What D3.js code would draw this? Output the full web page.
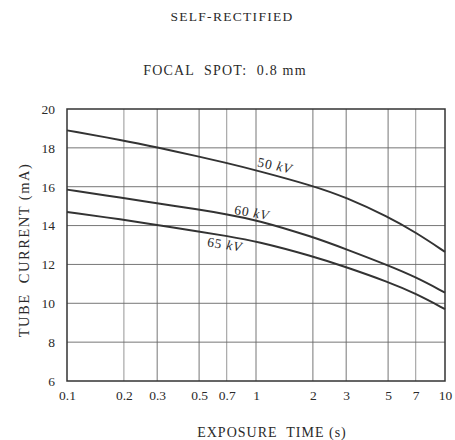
<!DOCTYPE html>
<html><head><meta charset="utf-8">
<script src="https://cdn.jsdelivr.net/npm/d3@7"></script>
<style>
html,body{margin:0;padding:0;background:#fff;}
text{font-family:"Liberation Serif","DejaVu Serif",serif;fill:#2a2a2a;}
</style></head>
<body>
<svg id="c" width="455" height="440"></svg>
<script>
const xTicks = [0.1, 0.2, 0.3, 0.5, 0.7, 1, 2, 3, 5, 7, 10];
const xTickLabels = ["0.1","0.2","0.3","0.5","0.7","1","2","3","5","7","10"];
const yTicks = [6, 8, 10, 12, 14, 16, 18, 20];
const times = [0.1, 0.2, 0.3, 0.5, 0.7, 1, 2, 3, 5, 7, 10];
const kv50 = [18.9, 18.38, 18.02, 17.55, 17.22, 16.85, 16.05, 15.45, 14.45, 13.65, 12.65];
const kv60 = [15.85, 15.42, 15.15, 14.82, 14.58, 14.3, 13.42, 12.78, 11.95, 11.35, 10.55];
const kv65 = [14.7, 14.3, 14.02, 13.7, 13.46, 13.2, 12.42, 11.86, 11.1, 10.5, 9.7];
const seriesNames = ["50 kV", "60 kV", "65 kV"];

const svg = d3.select("#c");
const L = 67, R = 445, T = 109, B = 381;
const x = d3.scaleLog().domain([0.1, 10]).range([L, R]);
const y = d3.scaleLinear().domain([6, 20]).range([B, T]);

// grid
svg.append("g").selectAll("line").data(xTicks.slice(1, -1)).join("line")
  .attr("x1", d => x(d)).attr("x2", d => x(d)).attr("y1", T).attr("y2", B)
  .attr("stroke", d => (d === 0.2 || d === 0.7 || d === 7) ? "#8a8a8a" : "#666")
  .attr("stroke-width", 0.9);
svg.append("g").selectAll("line").data(yTicks.slice(1, -1)).join("line")
  .attr("x1", L).attr("x2", R).attr("y1", d => y(d)).attr("y2", d => y(d))
  .attr("stroke", "#666").attr("stroke-width", 0.9);

// frame
svg.append("rect").attr("x", L).attr("y", T).attr("width", R - L).attr("height", B - T)
  .attr("fill", "none").attr("stroke", "#333").attr("stroke-width", 1.5);

// axes labels via d3 axes
const ax = svg.append("g").attr("transform", `translate(0,${B})`)
  .call(d3.axisBottom(x).tickValues(xTicks).tickFormat((d, i) => xTickLabels[i]).tickSize(0).tickPadding(9));
ax.select(".domain").remove();
ax.selectAll("text").attr("font-size", 13.5).attr("font-family", "Liberation Serif").attr("fill", "#2a2a2a");
const ay = svg.append("g").attr("transform", `translate(${L},0)`)
  .call(d3.axisLeft(y).tickValues(yTicks).tickFormat(d3.format("d")).tickSize(0).tickPadding(12));
ay.select(".domain").remove();
ay.selectAll("text").attr("font-size", 13.5).attr("font-family", "Liberation Serif").attr("fill", "#2a2a2a");

// curves
const line = d3.line().x((d, i) => x(times[i])).y(d => y(d)).curve(d3.curveBasis);
[kv50, kv60, kv65].forEach(s => {
  svg.append("path").attr("d", line(s)).attr("fill", "none")
    .attr("stroke", "#333").attr("stroke-width", 2);
});

// curve labels
const labelPos = [[274, 170, 12], [251, 217, 10], [224, 249, 9]];
seriesNames.forEach((n, i) => {
  const [lx, ly, a] = labelPos[i];
  const parts = n.split(" ");
  const t = svg.append("text").attr("transform", `translate(${lx},${ly}) rotate(${a})`)
    .attr("text-anchor", "middle").attr("font-size", 13.5).attr("letter-spacing", 0.8);
  t.append("tspan").text(parts[0] + " ");
  t.append("tspan").attr("font-style", "italic").text(parts[1]);
});

// titles
svg.append("text").attr("x", 232).attr("y", 21).attr("text-anchor", "middle")
  .attr("font-size", 13.5).attr("letter-spacing", 1.3).text("SELF-RECTIFIED");
svg.append("text").attr("x", 225).attr("y", 75).attr("text-anchor", "middle")
  .attr("font-size", 14).attr("letter-spacing", 1.2)
  .style("white-space", "pre").text("FOCAL  SPOT:  0.8 mm");
svg.append("text").attr("x", 272).attr("y", 437).attr("text-anchor", "middle")
  .attr("font-size", 14).attr("letter-spacing", 1.0)
  .style("white-space", "pre").text("EXPOSURE  TIME (s)");
svg.append("text").attr("transform", "translate(29,250) rotate(-90)").attr("text-anchor", "middle")
  .attr("font-size", 14.5).attr("letter-spacing", 1.5)
  .style("white-space", "pre").text("TUBE  CURRENT (mA)");
</script>
</body></html>
